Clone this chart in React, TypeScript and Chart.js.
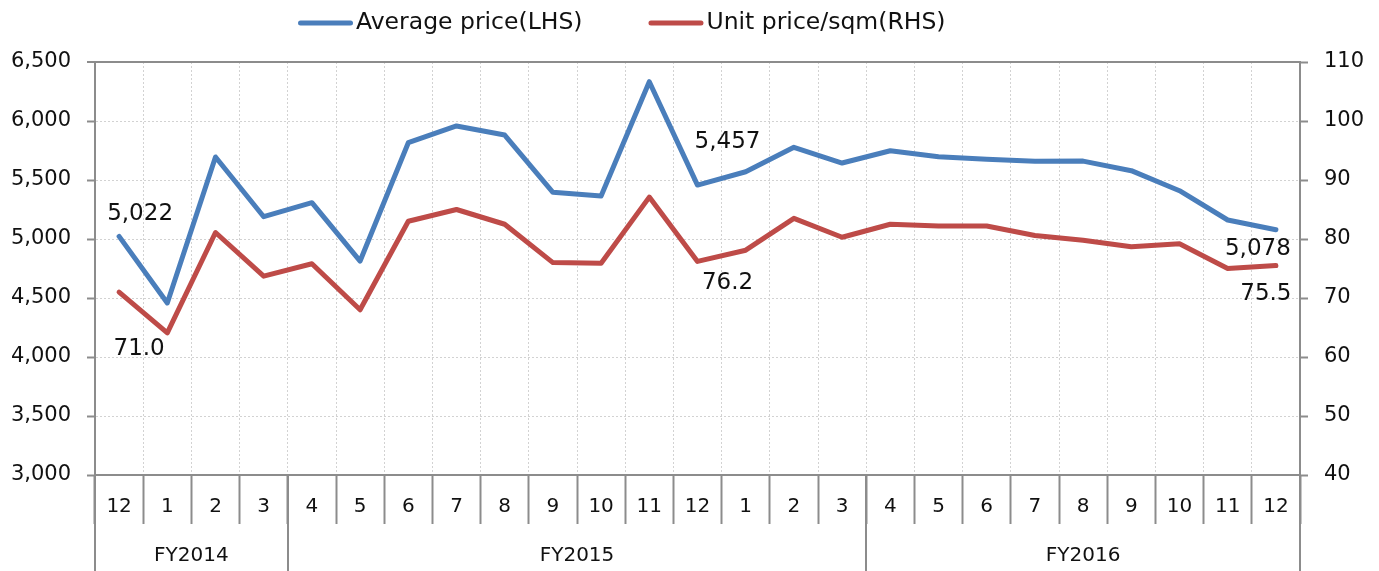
import React, { useEffect, useRef } from 'react';
import { Chart, registerables } from 'chart.js';

Chart.register(...registerables);

// ---------- data ----------
const months = ['12', '1', '2', '3', '4', '5', '6', '7', '8', '9', '10', '11', '12', '1', '2', '3', '4', '5', '6', '7', '8', '9', '10', '11', '12'];
const fiscalYears = ['FY2014', 'FY2015', 'FY2016'];
const fiscalYearSizes = [4, 12, 9];
const seriesNames = ['Average price(LHS)', 'Unit price/sqm(RHS)'];
const averagePrice = [5022, 4458, 5695, 5189, 5308, 4813, 5816, 5958, 5881, 5396, 5364, 6333, 5457, 5570, 5777, 5644, 5748, 5697, 5675, 5658, 5660, 5579, 5409, 5161, 5078];
const unitPrice = [71.0, 64.1, 81.1, 73.7, 75.8, 68.0, 83.0, 85.0, 82.5, 76.0, 75.9, 87.1, 76.2, 78.1, 83.5, 80.3, 82.5, 82.2, 82.2, 80.6, 79.8, 78.7, 79.2, 75.0, 75.5];
const leftAxis = { min: 3000, max: 6500, step: 500 };
const rightAxis = { min: 40, max: 110, step: 10 };
const calloutIndices = [0, 12, 24];

// ---------- style ----------
const FONT = '"DejaVu Sans", Verdana, sans-serif';
const BLUE = '#4a7ebb';
const RED = '#be4b48';
const AXIS = '#8c8c8c';
const GRID = '#d2d2d2';
const TEXT = '#111111';

// callout offsets (dx, dy) per series, per callout
const calloutOffsets = [
  [[21, -22], [30, -43], [-18, 19]],
  [[20, 57], [30, 22], [-10, 28]],
];

const formatters = [
  (v: number) => v.toLocaleString('en-US'),
  (v: number) => v.toFixed(1),
];

const overlayPlugin = {
  id: 'overlay',
  afterDraw(chart: any) {
    const ctx = chart.ctx;
    const x = chart.scales.x;
    const area = chart.chartArea;
    ctx.save();

    // fiscal-year separators and labels
    const boundary = (i: number) => {
      if (i <= 0) return x.left;
      if (i >= months.length) return x.right;
      return (x.getPixelForValue(i - 1) + x.getPixelForValue(i)) / 2;
    };
    ctx.strokeStyle = AXIS;
    ctx.lineWidth = 2;
    let start = 0;
    const edges = [0];
    fiscalYearSizes.forEach((n) => { start += n; edges.push(start); });
    edges.forEach((i) => {
      const px = Math.round(boundary(i));
      ctx.beginPath();
      ctx.moveTo(px, area.bottom);
      ctx.lineTo(px, chart.height);
      ctx.stroke();
    });
    ctx.fillStyle = TEXT;
    ctx.font = `20px ${FONT}`;
    ctx.textAlign = 'center';
    ctx.textBaseline = 'middle';
    fiscalYears.forEach((label, k) => {
      const cx = (boundary(edges[k]) + boundary(edges[k + 1])) / 2;
      ctx.fillText(label, cx, 556);
    });

    // callout value labels
    ctx.font = `23px ${FONT}`;
    chart.data.datasets.forEach((ds: any, d: number) => {
      const meta = chart.getDatasetMeta(d);
      calloutIndices.forEach((idx, c) => {
        const pt = meta.data[idx];
        const [dx, dy] = calloutOffsets[d][c];
        ctx.fillText(formatters[d](ds.data[idx]), pt.x + dx, pt.y + dy);
      });
    });

    // legend
    let lx = 298;
    const ly = 23;
    ctx.font = `23.5px ${FONT}`;
    ctx.textAlign = 'left';
    chart.data.datasets.forEach((ds: any) => {
      ctx.strokeStyle = ds.borderColor;
      ctx.lineWidth = 5;
      ctx.lineCap = 'round';
      ctx.beginPath();
      ctx.moveTo(lx + 2.5, ly);
      ctx.lineTo(lx + 52.5, ly);
      ctx.stroke();
      const tx = lx + 58;
      ctx.fillStyle = TEXT;
      ctx.fillText(ds.label, tx, ly);
      lx = tx + ctx.measureText(ds.label).width + 66;
    });
    ctx.restore();
  },
};

export default function App() {
  const ref = useRef<HTMLCanvasElement | null>(null);
  useEffect(() => {
    if (!ref.current) return;
    Chart.defaults.font.family = FONT;
    Chart.defaults.color = TEXT;
    const chart = new Chart(ref.current, {
      type: 'line',
      data: {
        labels: months,
        datasets: [
          {
            label: seriesNames[0], data: averagePrice, yAxisID: 'y', borderColor: BLUE, backgroundColor: BLUE,
            borderWidth: 5, pointRadius: 0, tension: 0, borderJoinStyle: 'round', borderCapStyle: 'round',
          },
          {
            label: seriesNames[1], data: unitPrice, yAxisID: 'y1', borderColor: RED, backgroundColor: RED,
            borderWidth: 5, pointRadius: 0, tension: 0, borderJoinStyle: 'round', borderCapStyle: 'round',
          },
        ],
      },
      options: {
        responsive: false,
        animation: false,
        events: [],
        layout: { padding: { top: 62, left: 0, right: 0, bottom: 0 } },
        plugins: { legend: { display: false }, tooltip: { enabled: false } },
        scales: {
          x: {
            type: 'category',
            offset: true,
            grid: {
              offset: true, color: GRID, lineWidth: 1, tickLength: 49, tickColor: AXIS, tickWidth: 2,
              tickBorderDash: [],
            },
            border: { display: true, color: AXIS, width: 2, dash: [2, 2] },
            ticks: { autoSkip: false, maxRotation: 0, minRotation: 0, padding: -29, font: { size: 20 }, color: TEXT },
            afterFit: (s: any) => { s.height = 96; },
          },
          y: {
            position: 'left',
            min: leftAxis.min, max: leftAxis.max,
            grid: {
              color: (c: any) => (c.tick && c.tick.value === leftAxis.max ? AXIS : GRID),
              lineWidth: (c: any) => (c.tick && c.tick.value === leftAxis.max ? 2 : 1),
              tickLength: 8, tickColor: AXIS, tickWidth: 2, tickBorderDash: [],
            },
            border: {
              display: true, color: AXIS, width: 2,
              dash: (c: any) => (c.tick && c.tick.value === leftAxis.max ? [] : [2, 2]),
            },
            ticks: {
              stepSize: leftAxis.step, padding: 16, font: { size: 21 }, color: TEXT,
              callback: (v: any) => Number(v).toLocaleString('en-US'),
            },
            afterFit: (s: any) => { s.width = 95; },
          },
          y1: {
            position: 'right',
            min: rightAxis.min, max: rightAxis.max,
            grid: { drawOnChartArea: false, tickLength: 8, tickColor: AXIS, tickWidth: 2, tickBorderDash: [] },
            border: { display: true, color: AXIS, width: 2 },
            ticks: { stepSize: rightAxis.step, padding: 16, font: { size: 21 }, color: TEXT },
            afterFit: (s: any) => { s.width = 79; },
          },
        },
      } as any,
      plugins: [overlayPlugin],
    });
    return () => chart.destroy();
  }, []);
  return (
    <div style={{ position: 'fixed', left: 0, top: 0, width: 1379, height: 571, background: '#fff' }}>
      <canvas ref={ref} width={1379} height={571} style={{ display: 'block' }} />
    </div>
  );
}
